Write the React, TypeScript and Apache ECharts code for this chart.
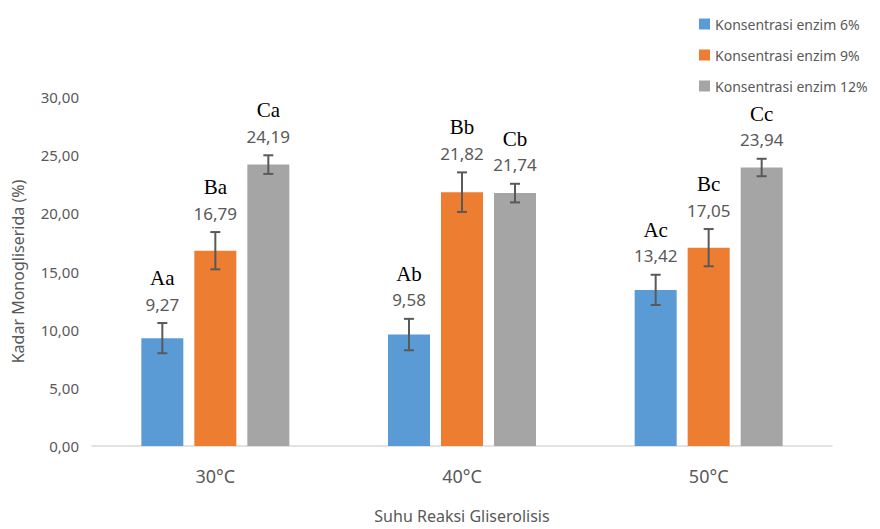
import React, { useEffect, useRef } from "react";
import * as echarts from "echarts";

const categories = ["30°C", "40°C", "50°C"];
const seriesNames = ["Konsentrasi enzim 6%", "Konsentrasi enzim 9%", "Konsentrasi enzim 12%"];
const values6 = [9.27, 9.58, 13.42];
const values9 = [16.79, 21.82, 17.05];
const values12 = [24.19, 21.74, 23.94];
const err6 = [1.3, 1.35, 1.3];
const err9 = [1.6, 1.7, 1.6];
const err12 = [0.8, 0.8, 0.75];
const letters6 = ["Aa", "Ab", "Ac"];
const letters9 = ["Ba", "Bb", "Bc"];
const letters12 = ["Ca", "Cb", "Cc"];
const yTicks = [0, 5, 10, 15, 20, 25, 30];

const colors = ["#5B9BD5", "#ED7D31", "#A5A5A5"];
const fmt = (v: number) => v.toFixed(2).replace(".", ",");

export default function App() {
  const ref = useRef<HTMLDivElement>(null);
  useEffect(() => {
    const chart = echarts.init(ref.current!, undefined, { renderer: "svg" });
    const vals = [values6, values9, values12];
    const errs = [err6, err9, err12];
    const lets = [letters6, letters9, letters12];
    const BW = 42;
    const GAP = 11;
    const groupW = 3 * BW + 2 * GAP;
    const barSeries = vals.map((v, i) => ({
      type: "bar",
      name: seriesNames[i],
      data: v,
      barWidth: BW,
      barGap: (GAP / BW) * 100 + "%",
      itemStyle: { color: colors[i] },
    }));
    const errSeries = vals.map((v, si) => ({
      type: "custom",
      name: seriesNames[si] + " err",
      data: v.map((val, k) => [k, val, errs[si][k]]),
      z: 10,
      renderItem: (params: any, api: any) => {
        const ci = api.value(0);
        const val = api.value(1);
        const e = api.value(2);
        const off = -groupW / 2 + BW / 2 + si * (BW + GAP);
        const top = api.coord([ci, val + e]);
        const bot = api.coord([ci, val - e]);
        const x = top[0] + off;
        const ls = { stroke: "#595959", lineWidth: 2 };
        return {
          type: "group",
          children: [
            { type: "line", shape: { x1: x, y1: top[1], x2: x, y2: bot[1] }, style: ls },
            { type: "line", shape: { x1: x - 5, y1: top[1], x2: x + 5, y2: top[1] }, style: ls },
            { type: "line", shape: { x1: x - 5, y1: bot[1], x2: x + 5, y2: bot[1] }, style: ls },
            {
              type: "text",
              x: x,
              y: top[1] - 19,
              style: {
                text: fmt(val),
                fill: "#595959",
                font: "17px 'Noto Sans', sans-serif",
                align: "center",
                verticalAlign: "middle",
              },
            },
            {
              type: "text",
              x: x,
              y: top[1] - 45,
              style: {
                text: lets[si][params.dataIndex],
                fill: "#000000",
                font: "21px 'Liberation Serif', serif",
                align: "center",
                verticalAlign: "middle",
              },
            },
          ],
        };
      },
    }));
    chart.setOption({
      animation: false,
      grid: { left: 92, right: 48, top: 97, bottom: 80 },
      legend: {
        data: seriesNames,
        orient: "vertical",
        left: 694,
        top: 12,
        itemWidth: 11,
        itemHeight: 11,
        itemGap: 17,
        icon: "rect",
        textStyle: { color: "#595959", fontSize: 14, fontFamily: "'Noto Sans', sans-serif" },
      },
      xAxis: {
        type: "category",
        data: categories,
        name: "Suhu Reaksi Gliserolisis",
        nameLocation: "middle",
        nameGap: 62,
        nameTextStyle: { color: "#595959", fontSize: 16, fontFamily: "'Noto Sans', sans-serif" },
        axisLine: { lineStyle: { color: "#D9D9D9", width: 1.5 } },
        axisTick: { show: false },
        axisLabel: { color: "#595959", fontSize: 18, margin: 21, fontFamily: "'Noto Sans', sans-serif" },
      },
      yAxis: {
        type: "value",
        min: yTicks[0],
        max: yTicks[yTicks.length - 1],
        interval: yTicks[1] - yTicks[0],
        name: "Kadar Monogliserida (%)",
        nameLocation: "middle",
        nameGap: 66,
        nameTextStyle: { color: "#595959", fontSize: 16, fontFamily: "'Noto Sans', sans-serif" },
        axisLine: { show: false },
        axisTick: { show: false },
        splitLine: { show: false },
        axisLabel: {
          color: "#595959",
          fontSize: 15,
          margin: 13,
          fontFamily: "'Noto Sans', sans-serif",
          formatter: (v: number) => fmt(v),
        },
      },
      series: [...barSeries, ...errSeries],
    });
    return () => chart.dispose();
  }, []);
  return (
    <div
      ref={ref}
      style={{ position: "absolute", left: 0, top: 0, width: 880, height: 529, background: "#fff" }}
    />
  );
}
